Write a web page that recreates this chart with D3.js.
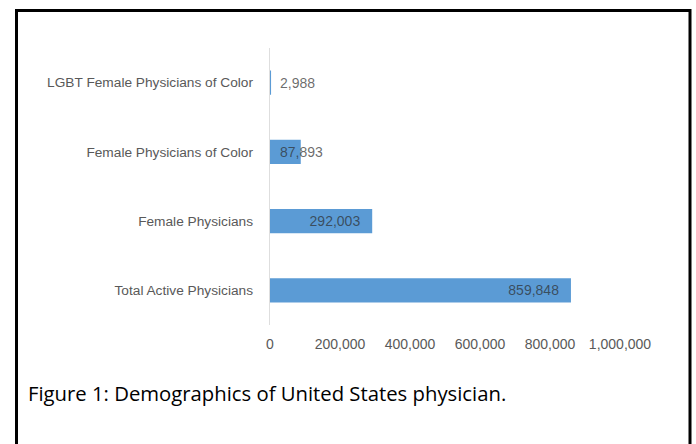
<!DOCTYPE html>
<html><head><meta charset="utf-8">
<script src="https://cdn.jsdelivr.net/npm/d3@7"></script>
<style>html,body{margin:0;padding:0;background:#fff;}svg{display:block;}</style>
</head><body>
<svg id="c" width="696" height="444"></svg>
<script>
const categories = ["LGBT Female Physicians of Color","Female Physicians of Color","Female Physicians","Total Active Physicians"];
const values = [2988, 87893, 292003, 859848];
const tickValues = [0, 200000, 400000, 600000, 800000, 1000000];
const caption = "Figure 1: Demographics of United States physician.";

const svg = d3.select("#c");
// frame
svg.append("path").attr("d","M16.5,460 V10.5 H690 V460").attr("fill","none").attr("stroke","#000").attr("stroke-width",3);

const x = d3.scaleLinear().domain([0,1000000]).range([270,620]);
const y = d3.scaleBand().domain(categories).range([48,325]).paddingInner(0.65).paddingOuter(0.325);
const fmt = d3.format(",");

// bars
svg.selectAll("rect.bar").data(values).enter().append("rect")
  .attr("x", x(0)).attr("y",(d,i)=>y(categories[i]))
  .attr("width", d=>x(d)-x(0)).attr("height", y.bandwidth())
  .attr("fill","#5b9bd5");

// category axis line
svg.append("line").attr("x1",269.5).attr("x2",269.5).attr("y1",48).attr("y2",325).attr("stroke","#dedede").attr("stroke-width",1);

// category labels
svg.selectAll("text.cat").data(categories).enter().append("text")
  .attr("x",253).attr("y",d=>y(d)+y.bandwidth()/2).attr("dy","0.35em")
  .attr("text-anchor","end").attr("font-family","Liberation Sans, Arial, sans-serif")
  .attr("font-size",13.7).attr("fill","#595959").text(d=>d);

// value labels
svg.selectAll("text.val").data(values).enter().append("text")
  .each(function(d,i){
    const t = d3.select(this);
    const inside = (x(d)-x(0)) > 60;
    t.attr("x", inside ? x(d)-12 : x(0)+10)
     .attr("text-anchor", inside ? "end" : "start");
  })
  .attr("y",(d,i)=>y(categories[i])+y.bandwidth()/2).attr("dy","0.35em")
  .attr("font-family","Liberation Sans, Arial, sans-serif").attr("font-size",14)
  .attr("fill","#2b2b2b").attr("fill-opacity",0.7).text(d=>fmt(d));

// x tick labels
svg.selectAll("text.tick").data(tickValues).enter().append("text")
  .attr("x",d=>x(d)).attr("y",344).attr("dy","0.35em").attr("text-anchor","middle")
  .attr("font-family","Liberation Sans, Arial, sans-serif").attr("font-size",14)
  .attr("fill","#595959").text(d=>fmt(d));

// caption
svg.append("text").attr("x",28).attr("y",401).attr("font-family","Open Sans, sans-serif")
  .attr("font-size",20.3).attr("fill","#000").text(caption);
</script>
</body></html>
